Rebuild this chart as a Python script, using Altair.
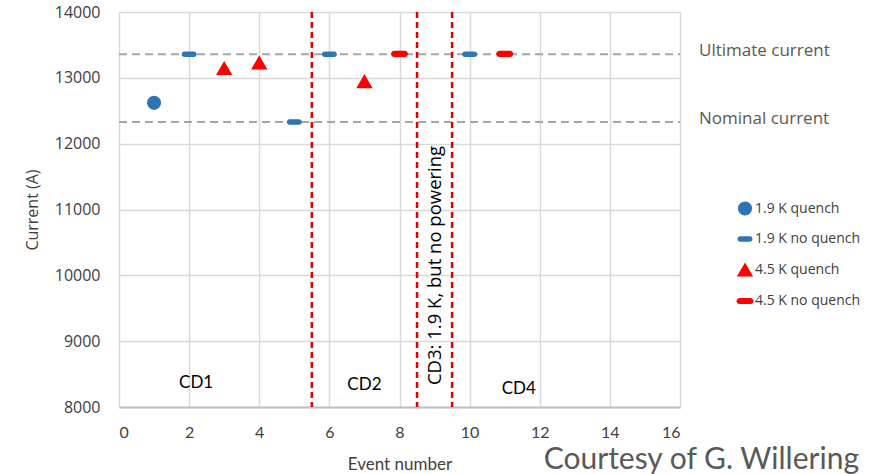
import altair as alt
import pandas as pd

# Data
q19_x = [1]
q19_y = [12620]
nq19_x = [2, 5, 6, 10]
nq19_y = [13360, 12330, 13360, 13360]
q45_x = [3, 4, 7]
q45_y = [13150, 13235, 12950]
nq45_x = [8, 11]
nq45_y = [13365, 13365]

series_names = ["1.9 K quench", "1.9 K no quench", "4.5 K quench", "4.5 K no quench"]
series_colors = ["#2e75b6", "#2e75b6", "#ff0000", "#ff0000"]

ultimate_current = 13360
nominal_current = 12330
campaign_bounds = [5.5, 8.5, 9.5]
campaign_labels = ["CD1", "CD2", "CD4"]
campaign_label_x = [2.2, 7.0, 11.4]
campaign_label_y = [8360, 8330, 8270]

bar_path = "M-0.62,-0.36H0.62A0.36,0.36 0 0 1 0.62,0.36H-0.62A0.36,0.36 0 0 1 -0.62,-0.36Z"
series_shapes = ["circle", bar_path, "triangle-up", bar_path]
series_sizes = [200, 300, 190, 180]

rows = []
for name, xs, ys in zip(series_names, [q19_x, nq19_x, q45_x, nq45_x], [q19_y, nq19_y, q45_y, nq45_y]):
    for x, y in zip(xs, ys):
        rows.append({"event": x, "current": y, "series": name})
pts = pd.DataFrame(rows)

FONT = "Open Sans"
NARROW = "Lato"
W, H = 561, 395

xscale = alt.Scale(domain=[0, 16], nice=False, zero=False)
yscale = alt.Scale(domain=[8000, 14000], nice=False, zero=False)

base_x = alt.X("event:Q", scale=xscale,
               axis=alt.Axis(values=list(range(0, 17, 2)), title="Event number",
                             grid=True, gridColor="#d9d9d9", gridWidth=1.5,
                             domain=True, domainColor="#bfbfbf", domainWidth=2,
                             ticks=False, labelFontSize=16, labelPadding=17,
                             labelColor="#404040", labelFont=NARROW,
                             titleFont=NARROW, titleFontSize=17,
                             titleFontWeight="normal", titleColor="#404040", titlePadding=16))
base_y = alt.Y("current:Q", scale=yscale,
               axis=alt.Axis(values=list(range(8000, 14001, 1000)), title="Current (A)", format="d",
                             grid=True, gridColor="#d9d9d9", gridWidth=1.5,
                             domain=False, ticks=False, labelFontSize=16, labelPadding=19,
                             labelColor="#404040", labelFont=FONT,
                             titleFont=FONT, titleFontSize=16, titleFontWeight="normal",
                             titleColor="#404040", titlePadding=14))

# horizontal reference lines
hl = pd.DataFrame({"current": [ultimate_current, nominal_current],
                   "label": ["Ultimate current", "Nominal current"]})
hlines = alt.Chart(hl).mark_rule(color="#a6a6a6", strokeDash=[8, 5], strokeWidth=2).encode(
    y=alt.Y("current:Q", scale=yscale), x=alt.value(0), x2=alt.value(W))
hlabels = alt.Chart(hl).mark_text(align="left", baseline="middle", dx=19, dy=-3,
                                  font=FONT, fontSize=17, color="#595959").encode(
    y=alt.Y("current:Q", scale=yscale), x=alt.value(W), text="label:N")

# vertical campaign boundaries
vl = pd.DataFrame({"event": campaign_bounds})
vlines = alt.Chart(vl).mark_rule(color="#e00000", strokeDash=[6, 4], strokeWidth=2.5).encode(
    x=alt.X("event:Q", scale=xscale), y=alt.value(0), y2=alt.value(H))

cd = pd.DataFrame({"event": campaign_label_x, "current": campaign_label_y, "label": campaign_labels})
cdtext = alt.Chart(cd).mark_text(font=NARROW, fontSize=17, color="#000000").encode(
    x=alt.X("event:Q", scale=xscale), y=alt.Y("current:Q", scale=yscale), text="label:N")

cd3 = pd.DataFrame({"event": [9.0], "current": [10150], "label": ["CD3: 1.9 K, but no powering"]})
cd3text = alt.Chart(cd3).mark_text(font=FONT, fontSize=18.5, color="#000000", angle=270).encode(
    x=alt.X("event:Q", scale=xscale), y=alt.Y("current:Q", scale=yscale), text="label:N")

points = alt.Chart(pts).mark_point(filled=True, opacity=1, strokeWidth=0).encode(
    x=base_x, y=base_y,
    color=alt.Color("series:N", scale=alt.Scale(domain=series_names, range=series_colors),
                    legend=alt.Legend(title=None, orient="none", legendX=617, legendY=189,
                                      labelFont=FONT, labelFontSize=14, labelColor="#404040",
                                      symbolSize=115, rowPadding=15, labelOffset=1,
                                      symbolStrokeWidth=0)),
    shape=alt.Shape("series:N", scale=alt.Scale(domain=series_names, range=series_shapes)),
    size=alt.Size("series:N", scale=alt.Scale(domain=series_names, range=series_sizes), legend=None),
)

courtesy = alt.Chart(pd.DataFrame({"t": ["Courtesy of G. Willering"]})).mark_text(
    align="right", baseline="alphabetic", font=NARROW, fontSize=30,
    color="#595959").encode(x=alt.value(740), y=alt.value(457), text="t:N")

chart = alt.layer(hlines, vlines, hlabels, cdtext, cd3text, courtesy, points).properties(
    width=W, height=H,
    autosize=alt.AutoSizeParams(type="none"),
    padding={"left": 119, "top": 12, "right": 199, "bottom": 67},
    background="white",
).configure_view(stroke=None)

chart.save("out.html", embed_options={"renderer": "svg", "actions": False})
